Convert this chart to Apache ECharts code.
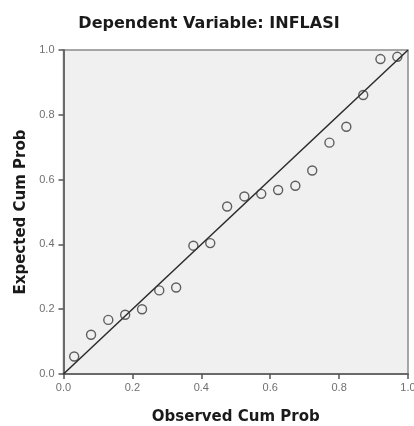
<!DOCTYPE html>
<html>
<head>
<meta charset="utf-8">
<script src="https://cdn.jsdelivr.net/npm/echarts@6/dist/echarts.min.js"></script>
<style>
html,body{margin:0;padding:0;background:#fff;}
#chart{width:414px;height:426px;}
</style>
</head>
<body>
<div id="chart"></div>
<script>
const titleText = "Dependent Variable: INFLASI";
const xAxisName = "Observed Cum Prob";
const yAxisName = "Expected Cum Prob";
const observedCumProb = [0.031, 0.080, 0.130, 0.179, 0.228, 0.278, 0.327, 0.377, 0.426, 0.475,
                         0.525, 0.574, 0.623, 0.673, 0.722, 0.772, 0.821, 0.870, 0.920, 0.969];
const expectedCumProb = [0.054, 0.121, 0.167, 0.183, 0.200, 0.258, 0.267, 0.396, 0.404, 0.517,
                         0.548, 0.556, 0.568, 0.581, 0.628, 0.714, 0.763, 0.861, 0.972, 0.979];
const refLine = [[0, 0], [1, 1]];
const axisMin = 0, axisMax = 1, axisInterval = 0.2;

const points = observedCumProb.map((x, i) => [x, expectedCumProb[i]]);

const chart = echarts.init(document.getElementById('chart'), null, {renderer: 'canvas'});
const labelStyle = {color: '#707070', fontFamily: 'Liberation Sans', fontSize: 11,
  formatter: v => v.toFixed(1)};
chart.setOption({
  animation: false,
  backgroundColor: '#ffffff',
  title: {
    text: titleText, left: 204, top: 11, textAlign: 'center',
    textStyle: {fontFamily: 'DejaVu Sans', fontWeight: 'bold', fontSize: 16, color: '#1a1a1a'}
  },
  grid: {
    left: 63.5, right: 6, top: 50, bottom: 52,
    containLabel: false, outerBoundsMode: 'none',
    show: true, backgroundColor: '#f0f0f0', borderColor: '#8a8a8a', borderWidth: 1.5
  },
  xAxis: {
    type: 'value', min: axisMin, max: axisMax, interval: axisInterval,
    name: xAxisName, nameLocation: 'middle', nameGap: 36,
    nameTextStyle: {fontFamily: 'DejaVu Sans', fontWeight: 'bold', fontSize: 15, color: '#1a1a1a'},
    axisLine: {show: true, onZero: false, lineStyle: {color: '#6a6a6a', width: 2}},
    axisTick: {show: true, inside: false, length: 5, lineStyle: {color: '#555', width: 1.5}},
    axisLabel: Object.assign({margin: 8}, labelStyle),
    splitLine: {show: false}
  },
  yAxis: {
    type: 'value', min: axisMin, max: axisMax, interval: axisInterval,
    name: yAxisName, nameLocation: 'middle', nameGap: 31,
    nameTextStyle: {fontFamily: 'DejaVu Sans', fontWeight: 'bold', fontSize: 15, color: '#1a1a1a'},
    axisLine: {show: true, onZero: false, lineStyle: {color: '#6a6a6a', width: 2}},
    axisTick: {show: true, inside: false, length: 5, lineStyle: {color: '#555', width: 1.5}},
    axisLabel: Object.assign({margin: 9}, labelStyle),
    splitLine: {show: false}
  },
  series: [
    {
      type: 'line', data: refLine, symbol: 'none', silent: true,
      lineStyle: {color: '#2a2a2a', width: 1.5}, z: 2
    },
    {
      type: 'scatter', data: points, symbol: 'circle', symbolSize: 9,
      itemStyle: {color: 'rgba(0,0,0,0)', borderColor: '#3a3a3a', borderWidth: 1.4}, z: 3
    }
  ]
});
</script>
</body>
</html>
